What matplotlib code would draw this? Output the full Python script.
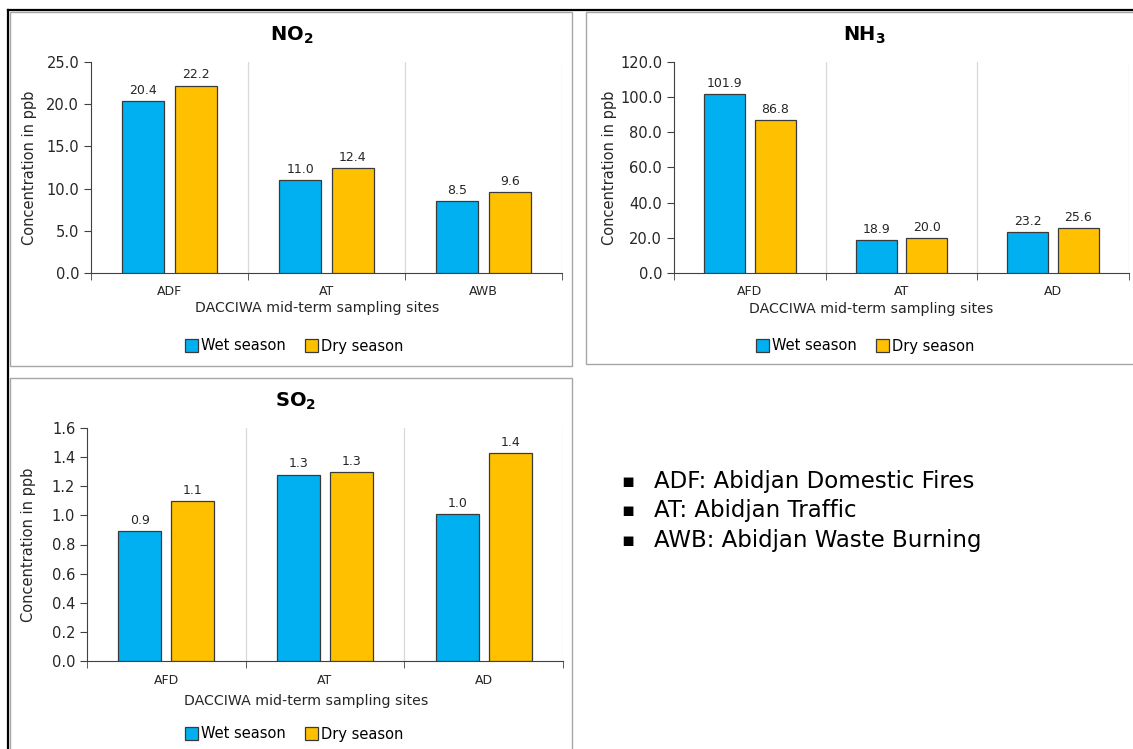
import matplotlib.pyplot as plt
from matplotlib.patches import Rectangle
from matplotlib.lines import Line2D

plt.rcParams['font.family'] = 'DejaVu Sans'
plt.rcParams['mathtext.fontset'] = 'custom'
plt.rcParams['mathtext.bf'] = 'DejaVu Sans:bold'

seasons = ["Wet season", "Dry season"]
colors = ["#00B0F0", "#FFC000"]

no2_sites = ["ADF", "AT", "AWB"]
no2_wet = [20.4, 11.0, 8.5]
no2_dry = [22.2, 12.4, 9.6]

nh3_sites = ["AFD", "AT", "AD"]
nh3_wet = [101.9, 18.9, 23.2]
nh3_dry = [86.8, 20.0, 25.6]

so2_sites = ["AFD", "AT", "AD"]
so2_wet = [0.89, 1.28, 1.01]
so2_dry = [1.10, 1.30, 1.43]

notes = ["ADF: Abidjan Domestic Fires", "AT: Abidjan Traffic", "AWB: Abidjan Waste Burning"]

W, H = 1133, 749
fig = plt.figure(figsize=(W / 100, H / 100), dpi=100)


def box(x0, x1, y0, y1):
    return [x0 / W, 1 - y1 / H, (x1 - x0) / W, (y1 - y0) / H]


def panel(rect, title, title_xy, sites, wet, dry, ymax, step, xlab_xy, leg_xy, ylab_x):
    x0, x1, y0, y1 = rect
    ax = fig.add_axes(box(x0, x1, y0, y1))
    xs = range(len(sites))
    w = 0.27
    for vals, off, c in [(wet, -0.167, colors[0]), (dry, 0.167, colors[1])]:
        bars = ax.bar([x + off for x in xs], vals, width=w, color=c,
                      edgecolor="#3a3a3a", linewidth=0.9, zorder=3)
        ax.bar_label(bars, labels=[f"{v:.1f}" for v in vals], padding=3,
                     fontsize=9, color="#262626")
    ax.set_xlim(-0.5, len(sites) - 0.5)
    ax.set_ylim(0, ymax)
    yt = [i * step for i in range(int(round(ymax / step)) + 1)]
    ax.set_yticks(yt)
    ax.set_yticklabels([f"{v:.1f}" for v in yt], fontsize=10.5, color="#262626")
    ax.set_xticks(list(xs))
    ax.set_xticklabels(sites, fontsize=9, color="#262626")
    ax.tick_params(axis="x", which="major", length=0, pad=9)
    ax.set_xticks([i - 0.5 for i in range(len(sites) + 1)], minor=True)
    ax.tick_params(axis="x", which="minor", length=5, direction="out", color="#404040")
    ax.tick_params(axis="y", length=5, direction="out", color="#404040")
    for b in range(1, len(sites) + 1):
        ax.axvline(b - 0.5, color="#d9d9d9", linewidth=0.9, zorder=1)
    for s in ["top", "right"]:
        ax.spines[s].set_visible(False)
    for s in ["left", "bottom"]:
        ax.spines[s].set_color("#404040")
    ax.set_ylabel("Concentration in ppb", fontsize=10.5, color="#262626")
    ax.yaxis.set_label_coords((ylab_x - x0) / (x1 - x0), 0.5)
    ax.set_xlabel("DACCIWA mid-term sampling sites", fontsize=10.2, color="#262626")
    ax.xaxis.label.set_va("center")
    ax.xaxis.set_label_coords((xlab_xy[0] - x0) / (x1 - x0), (y1 - xlab_xy[1]) / (y1 - y0))
    fig.text(title_xy[0] / W, 1 - title_xy[1] / H, title,
             ha="center", va="center", fontsize=14, fontweight="bold")
    handles = [Rectangle((0, 0), 1, 1, facecolor=c, edgecolor="#3a3a3a", linewidth=0.9)
               for c in colors]
    ax.legend(handles, seasons, loc="center", ncol=2, frameon=False,
              bbox_to_anchor=(leg_xy[0] / W, 1 - leg_xy[1] / H),
              bbox_transform=fig.transFigure, fontsize=10.5,
              handlelength=0.9, handleheight=0.9, handletextpad=0.2,
              columnspacing=1.3)
    return ax


panel((91, 562, 62, 273), r"NO$\mathbf{_2}$", (292, 35), no2_sites, no2_wet, no2_dry,
      25, 5, (317, 308), (294, 346), 37.5)
panel((674, 1129, 62, 273), r"NH$\mathbf{_3}$", (864, 35), nh3_sites, nh3_wet, nh3_dry,
      120, 20, (871, 309), (865, 346), 617)
panel((87, 563, 428, 661), r"SO$\mathbf{_2}$", (296, 401), so2_sites, so2_wet, so2_dry,
      1.6, 0.2, (306, 701), (294, 734), 36)

# panel borders
for x0, x1, y0, y1 in [(10, 572, 12, 366), (586, 1140, 12, 364), (10, 572, 378, 760)]:
    fig.add_artist(Rectangle((x0 / W, 1 - y1 / H), (x1 - x0) / W, (y1 - y0) / H,
                             transform=fig.transFigure, fill=False,
                             edgecolor="#a6a6a6", linewidth=1.0))
# outer frame lines
fig.add_artist(Line2D([8 / W, 1], [1 - 10 / H, 1 - 10 / H], transform=fig.transFigure,
                      color="black", linewidth=1.6))
fig.add_artist(Line2D([8 / W, 8 / W], [0, 1 - 10 / H], transform=fig.transFigure,
                      color="black", linewidth=1.6))

for i, t in enumerate(notes):
    y = 1 - (481 + i * 30) / H
    fig.text(628 / W, y, "\u25aa", ha="center", va="center", fontsize=14)
    fig.text(654 / W, y, t, ha="left", va="center", fontsize=16.5)

fig.savefig("out.png", dpi=100)
